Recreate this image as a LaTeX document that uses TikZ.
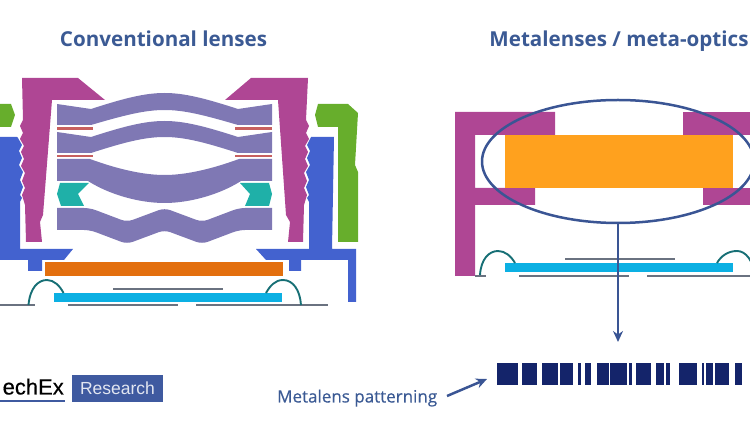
\documentclass[tikz,border=0pt]{standalone}
\usepackage{fontspec}
\setmainfont{Open Sans}
\newfontfamily\labelfont[FakeBold=0.35]{Open Sans}
\newfontfamily\logofont[FakeBold=0.4]{Liberation Sans}
\newfontfamily\logoplain{Liberation Sans}
\usetikzlibrary{arrows.meta,positioning,shapes.geometric}

\definecolor{barrel}{HTML}{AF4694}
\definecolor{mount}{HTML}{4362CF}
\definecolor{shell}{HTML}{67AE2C}
\definecolor{glass}{HTML}{7F78B4}
\definecolor{spacer}{HTML}{1FB0A8}
\definecolor{shim}{HTML}{C8605F}
\definecolor{filterbar}{HTML}{E36F0E}
\definecolor{sensor}{HTML}{0CB0E3}
\definecolor{metabox}{HTML}{FFA11E}
\definecolor{wire}{HTML}{6A7280}
\definecolor{bond}{HTML}{176F75}
\definecolor{heading}{HTML}{3B5A94}
\definecolor{ringblue}{HTML}{3A5594}
\definecolor{metabar}{HTML}{14246A}
\definecolor{logoblue}{HTML}{3F5AA0}

\tikzset{
  title/.style={font=\bfseries\fontsize{20.6}{24}\selectfont, text=heading, inner sep=0pt, anchor=base},
  wireline/.style={draw=wire, line width=1.9pt},
  bondline/.style={draw=bond, line width=1.9pt},
  shimline/.style={draw=shim, line width=2.2pt},
  pointer/.style={draw=ringblue, line width=2.5pt, -{Stealth[length=11pt,width=10pt]}}
}

\begin{document}
\begin{tikzpicture}[x=1pt,y=-1pt]
      \path[use as bounding box, clip] (0,0) rectangle (750,430);

      %% headings
      \node (convtitle) [title] at (163.5,47) {Conventional lenses};
      \node (metatitle) [title] at (619,47) {Metalenses / meta-optics};

      %% conventional stack, barrel
      \fill[barrel] (22,78) -- (78,78) -- (105,100) -- (52,100) -- (43,215) -- (40,222) -- (42,242) -- (26,242)
        -- (25,205) -- (22,195) -- (25,188) -- (22,181) -- (25,173) -- (21,166) -- (24,159) -- (21,152) -- (24,146)
        -- (20,139) -- (23,133) -- (20,126) -- (23,120) -- cycle;
      \fill[barrel] (251,78) -- (308,78) -- (306,120) -- (309,126) -- (306,133) -- (309,139) -- (305,146) -- (308,152)
        -- (305,159) -- (308,166) -- (304,173) -- (307,181) -- (304,188) -- (307,195) -- (304,205)
        -- (303,242) -- (288,242) -- (290,222) -- (286,215) -- (278,100) -- (225,100) -- cycle;

      %% mounts
      \fill[mount] (0,137) -- (17,137) -- (18,138) -- (22,145) -- (19,151) -- (22,158) -- (19,165) -- (23,172) -- (20,180)
        -- (23,187) -- (20,195) -- (22,198) -- (20,202) -- (20,249) -- (73,249) -- (64,260) -- (42,260) -- (42,271)
        -- (28,271) -- (28,260) -- (0,260) -- cycle;
      \fill[mount] (311,137) -- (334,137) -- (332,249) -- (356,249) -- (356,302) -- (348,302) -- (348,260) -- (301,260)
        -- (301,271) -- (289,271) -- (289,260) -- (266,260) -- (256,249) -- (309,249) -- (309,202) -- (307,198) -- (309,195)
        -- (306,187) -- (309,180) -- (306,172) -- (310,165) -- (307,158) -- (310,151) -- (307,145) -- cycle;

      %% outer shell
      \fill[shell] (0,104) -- (11,104) -- (15,115) -- (11,127) -- (0,127) -- cycle;
      \fill[shell] (318,104) -- (348,104) -- (358,113) -- (355,165) -- (358,172) -- (358,242) -- (338,242) -- (338,127)
        -- (318,127) -- (315,115) -- cycle;

      %% lens elements
      \fill[glass] (57,104) -- (91,109) .. controls (125,98) and (145,93) .. (164.5,93)
        .. controls (184,93) and (204,98) .. (238,109) -- (272,104) -- (272,125) -- (238,125)
        .. controls (204,115) and (184,110) .. (164.5,110) .. controls (145,110) and (125,115) .. (91,125) -- (57,125) -- cycle;
      \fill[glass] (57,132) -- (91,137) .. controls (125,126) and (145,121) .. (164.5,121)
        .. controls (184,121) and (204,126) .. (238,137) -- (272,132) -- (272,153) -- (238,153)
        .. controls (204,142) and (184,137) .. (164.5,137) .. controls (145,137) and (125,142) .. (91,153) -- (57,153) -- cycle;
      \fill[glass] (57,159) -- (90,159) .. controls (120,170) and (145,175) .. (164.5,175)
        .. controls (184,175) and (209,170) .. (239,159) -- (272,159) -- (272,181) -- (241,181)
        .. controls (219,195) and (189,203) .. (164.5,203) .. controls (140,203) and (110,195) .. (88,181) -- (57,181) -- cycle;
      \fill[glass] (57,208) [rounded corners=6pt] -- (90,208) -- (127,222) -- (164.5,208) -- (202,222) -- (239,208)
        [sharp corners] -- (272,208) -- (272,230) [rounded corners=6pt] -- (239,230) -- (202,244) -- (164.5,230)
        -- (127,244) -- (90,230) [sharp corners] -- (57,230) -- cycle;

      %% shims between the elements
      \foreach \shimy in {128.5,156} {
        \coordinate (shimla) at (57,\shimy);
        \coordinate (shimlb) at (93,\shimy);
        \coordinate (shimra) at (235,\shimy);
        \coordinate (shimrb) at (272,\shimy);
        \draw[shimline] (shimla) -- (shimlb);
        \draw[shimline] (shimra) -- (shimrb);
      }

      %% spacers
      \fill[spacer] (60,183) -- (89,183) -- (78,194) -- (84,206) -- (61,206) -- (57,194) -- cycle;
      \fill[spacer] (240,183) -- (269,183) -- (272,194) -- (269,206) -- (245,206) -- (250,194) -- cycle;

      %% filter and sensor
      \fill[filterbar] (45,262) rectangle (283,276);
      \fill[sensor] (54,293) rectangle (282,302);
      \draw[wireline] (113,289) -- (223,289);
      \draw[wireline] (0,305) -- (35,305);
      \draw[wireline] (68,305) -- (178,305);
      \draw[wireline] (196,305) -- (328,305);
      \draw[bondline] (28.5,305) .. controls (30,288) and (38,280) .. (47,280) .. controls (54,280) and (60,286) .. (63.5,293);
      \draw[bondline] (266,293) .. controls (270,286) and (275,280) .. (283,280) .. controls (293,280) and (300,290) .. (301,305);

      %% metalens module
      \fill[barrel] (455,112) -- (555,112) -- (555,135) -- (475,135) -- (475,188) -- (535,188) -- (535,205) -- (475,205)
        -- (475,276) -- (455,276) -- cycle;
      \fill[barrel] (683,112) rectangle (755,135);
      \fill[barrel] (703,188) rectangle (755,205);
      \fill[metabox] (505,135) rectangle (733,188);
      \fill[sensor] (505,263) rectangle (733,272);
      \draw[wireline] (565,259) -- (675,259);
      \draw[wireline] (475,276) -- (486,276);
      \draw[wireline] (519,276) -- (629,276);
      \draw[wireline] (647,276) -- (755,276);
      \draw[bondline] (480,275) .. controls (481,259) and (489,251) .. (498,251) .. controls (505,251) and (511,256) .. (515,263);
      \draw[bondline] (717,263) .. controls (721,256) and (728,251) .. (737,251) .. controls (746,251) and (753,261) .. (755,275);

      %% highlight ring and the bars under it
      \node (lensring) [ellipse, draw=ringblue, line width=2.5pt, inner sep=0pt, minimum width=272pt, minimum height=123pt] at (618,161.5) {};
      \coordinate (ringdrop) at (618,342);
      \draw[pointer] (lensring.south) -- (ringdrop);

      \foreach \barl/\barr in {497.3/518.3,521.7/532.7,533.3/536.7,542.3/558.3,560/572.7,577.7/580.7,585/591.3,
          597.3/608.7,610/627.3,629/632,636/651.3,656/664,665.7/670.3,679.3/696.7,701.7/704,706/712.7,715.3/729.3,735/742.3} {
        \fill[metabar] (\barl,363) rectangle (\barr,385);
      }

      \node (patternlabel) [font=\labelfont\fontsize{17}{20}\selectfont, text=heading, inner sep=0pt, anchor=base west] at (277,402.5) {Metalens patterning};
      \coordinate (patternstart) at (447,396);
      \coordinate (patternend) at (487,379);
      \draw[pointer] (patternstart) -- (patternend);

      %% logo
      \node (logotext) [font=\logofont\fontsize{22}{26}\selectfont, inner sep=0pt, anchor=base east] at (64,394.5) {echEx};
      \coordinate (logola) at (0,400.5);
      \coordinate (logolb) at (65,400.5);
      \draw[logoblue, line width=2pt] (logola) -- (logolb);
      \node (logobox) [fill=logoblue, text=white!85!logoblue, font=\logoplain\fontsize{17.5}{20}\selectfont, minimum width=91pt, minimum height=27pt, inner sep=0pt] at (117.5,388.5) {Research};

    \end{tikzpicture}
\end{document}
